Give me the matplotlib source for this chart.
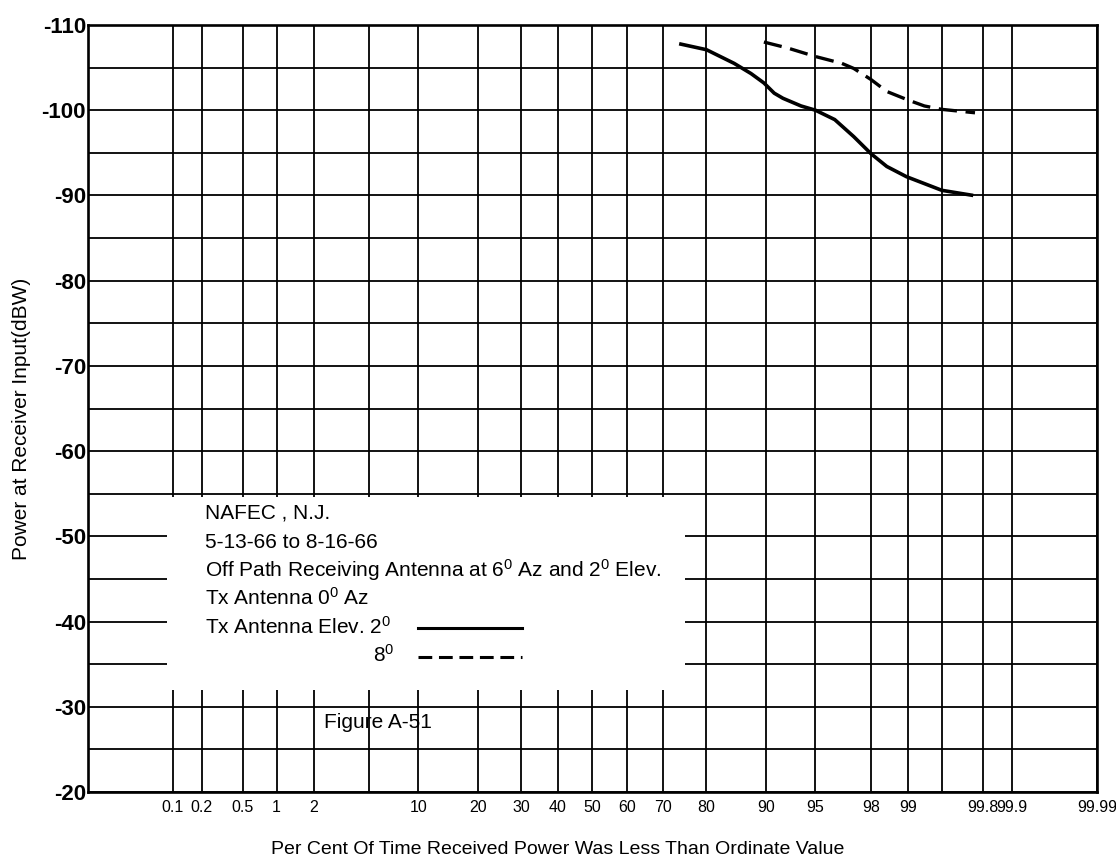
import matplotlib
matplotlib.use("Agg")
import matplotlib.pyplot as plt
from matplotlib.patches import Rectangle
from matplotlib.lines import Line2D
import numpy as np
from statistics import NormalDist

# ---------------- data ----------------
x_ticks_pct = [0.1, 0.2, 0.5, 1, 2, 5, 10, 20, 30, 40, 50, 60, 70, 80, 90,
               95, 98, 99, 99.5, 99.8, 99.9, 99.99]
x_tick_labels = ['0.1', '0.2', '0.5', '1', '2', '', '10', '20', '30', '40',
                 '50', '60', '70', '80', '90', '95', '98', '99', '',
                 '99.8', '99.9', '99.99']
y_major = [-110, -100, -90, -80, -70, -60, -50, -40, -30, -20]
y_minor = [-105, -95, -85, -75, -65, -55, -45, -35, -25]

# Tx antenna elevation 2 deg (solid)
elev2_pct = [73.9, 80.0, 85.2, 87.9, 89.7, 91.0, 92.0, 93.8, 95.0, 96.3,
             97.3, 98.0, 98.5, 98.97, 99.5, 99.75]
elev2_dbw = [-107.8, -107.1, -105.5, -104.3, -103.2, -102.0, -101.4, -100.5,
             -100.0, -98.9, -96.9, -94.9, -93.4, -92.2, -90.6, -90.0]
# Tx antenna elevation 8 deg (dashed)
elev8_pct = [89.7, 92.5, 95.0, 96.7, 97.3, 98.0, 98.5, 99.0, 99.28, 99.5, 99.76]
elev8_dbw = [-108.0, -107.3, -106.3, -105.5, -104.9, -103.6, -102.2, -101.2,
             -100.5, -100.1, -99.7]

# ---------------- probability scale ----------------
_nd = NormalDist()
_ppf = np.vectorize(lambda q: _nd.inv_cdf(q), otypes=[float])
_cdf = np.vectorize(lambda t: _nd.cdf(t), otypes=[float])

def fwd(p):
    p = np.clip(np.asarray(p, dtype=float), 1e-7, 100 - 1e-7)
    return _ppf(p / 100.0)

def inv(z):
    z = np.clip(np.asarray(z, dtype=float), -8, 8)
    return _cdf(z) * 100.0

FONT = ['Liberation Sans', 'DejaVu Sans']
plt.rcParams['font.family'] = FONT
plt.rcParams['mathtext.default'] = 'regular'

W, H = 1116, 861
fig = plt.figure(figsize=(W / 100, H / 100), dpi=100)
L, R, T, B = 87.5, 1097, 25, 792
ax = fig.add_axes([L / W, 1 - B / H, (R - L) / W, (B - T) / H])

ax.set_xscale('function', functions=(fwd, inv))
ax.set_xlim(0.01, 99.99)
ax.set_ylim(-20, -110)

ax.set_xticks(x_ticks_pct)
ax.set_xticklabels(x_tick_labels)
ax.xaxis.set_minor_locator(matplotlib.ticker.NullLocator())
ax.set_yticks(y_major)
ax.set_yticklabels([str(v) for v in y_major])
ax.set_yticks(y_minor, minor=True)

ax.set_axisbelow(True)
ax.grid(True, which='both', color='black', linewidth=1.3)
ax.tick_params(axis='both', which='both', length=0)
ax.tick_params(axis='x', labelsize=11.5, pad=6)
ax.tick_params(axis='y', labelsize=16, pad=1)
for lab in ax.get_yticklabels():
    lab.set_fontweight('bold')
for sp in ax.spines.values():
    sp.set_linewidth(1.9)
    sp.set_zorder(5)

# white area behind the annotation block
ax.add_patch(Rectangle((0.0788, 0.133), 0.5131, 0.252, transform=ax.transAxes,
                       facecolor='white', edgecolor='none', zorder=1))

ax.plot(elev2_pct, elev2_dbw, color='black', linewidth=2.6, zorder=3,
        solid_capstyle='butt')
ax.plot(elev8_pct, elev8_dbw, color='black', linewidth=2.4, zorder=3,
        dashes=(5.5, 2.6))

ax.set_xlabel('Per Cent Of Time Received Power Was Less Than Ordinate Value',
              fontsize=14)
ax.xaxis.set_label_coords(((558 - L) / (R - L)), -(850 - B) / (B - T))
ax.xaxis.label.set_va('center')
ax.set_ylabel('Power at Receiver Input(dBW)', fontsize=15)
ax.yaxis.set_label_coords(-(L - 22) / (R - L), (B - 419) / (B - T))
ax.yaxis.label.set_va('center')

def fx(px):
    return px / W

def fy(py):
    return 1 - py / H

tsize = 15
lines = [
    ("NAFEC , N.J.", 513),
    ("5-13-66 to 8-16-66", 542),
    ("Off Path Receiving Antenna at 6$^{0}$ Az and 2$^{0}$ Elev.", 570),
    ("Tx Antenna 0$^{0}$ Az", 598),
    ("Tx Antenna Elev. 2$^{0}$", 627),
]
for txt, py in lines:
    fig.text(fx(205), fy(py), txt, fontsize=tsize, va='center', ha='left',
             zorder=6)
fig.text(fx(373), fy(655), "8$^{0}$", fontsize=tsize, va='center', ha='left')

fig.add_artist(Line2D([fx(418), fx(522)], [fy(628), fy(628)], color='black',
                      linewidth=2.2))
fig.add_artist(Line2D([fx(418), fx(522)], [fy(657), fy(657)], color='black',
                      linewidth=2.2, dashes=(4.5, 2.2)))

fig.text(fx(378), fy(723), "Figure A-51", fontsize=tsize, va='center',
         ha='center')

fig.savefig('out.png', dpi=100, facecolor='white')
